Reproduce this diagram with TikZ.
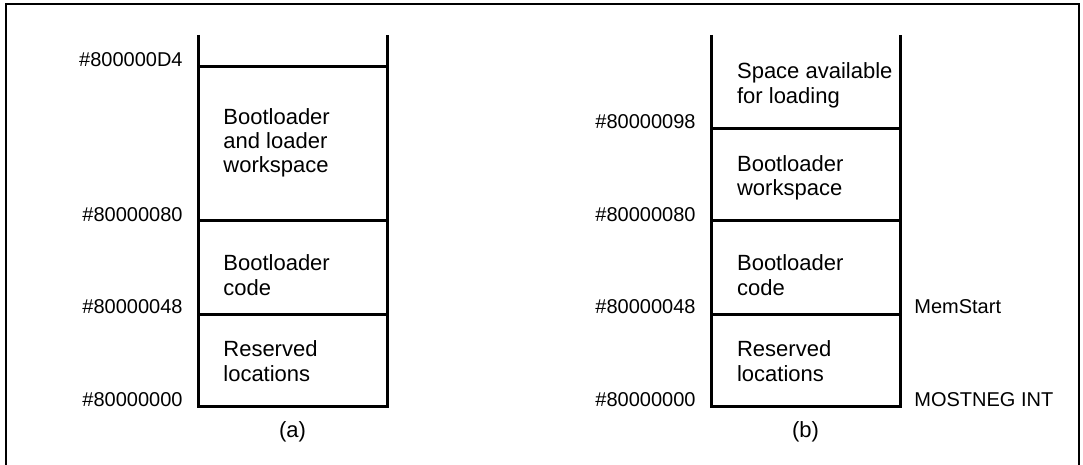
\documentclass[tikz,border=0pt]{standalone}
\usepackage{fontspec}
\setmainfont{Liberation Sans}
\usetikzlibrary{calc}

\tikzset{
    mem/.style={line width=1.5pt},
    addr/.style={font=\fontsize{10}{12}\selectfont, anchor=base east, inner sep=0pt},
    side/.style={font=\fontsize{10}{12}\selectfont, anchor=base west, inner sep=0pt},
    blk/.style={font=\fontsize{11}{12.15}\selectfont, anchor=base west, align=left, inner sep=0pt},
    capt/.style={font=\fontsize{11}{13}\selectfont, inner sep=0pt},
}

\begin{document}
\begin{tikzpicture}[x=0.5pt, y=-0.5pt]

    \useasboundingbox (0,0) rectangle (1083,465);
    % 外框
    \draw[line width=0.7pt] (6,470) -- (6,4) -- (1079,4) -- (1079,470);

    % 定义关键坐标 (a)
    \coordinate (a_top) at (198,35);                % 左边线上端
    \coordinate (a_D4)  at (198,67);                % #800000D4
    \coordinate (a_80)  at (198,221);               % #80000080
    \coordinate (a_48)  at (198,314);               % #80000048
    \coordinate (a_00)  at (198,406);               % #80000000
    \coordinate (a_R)   at (387,406);               % 右下角
    % 定义关键坐标 (b)
    \coordinate (b_top) at (711,35);
    \coordinate (b_98)  at (711,129);               % #80000098
    \coordinate (b_80)  at (711,221);
    \coordinate (b_48)  at (711,314);
    \coordinate (b_00)  at (711,406);
    \coordinate (b_R)   at (900,406);

    % 画存储区 (a)
    \draw[mem] (a_top) -- (a_00) -- (a_R) -- (a_R |- a_top);
    \draw[mem] (a_D4) -- (a_D4 -| a_R);
    \draw[mem] (a_80) -- (a_80 -| a_R);
    \draw[mem] (a_48) -- (a_48 -| a_R);
    % 画存储区 (b)
    \draw[mem] (b_top) -- (b_00) -- (b_R) -- (b_R |- b_top);
    \draw[mem] (b_98) -- (b_98 -| b_R);
    \draw[mem] (b_80) -- (b_80 -| b_R);
    \draw[mem] (b_48) -- (b_48 -| b_R);

    % 地址标记
    \node[addr] (a_lD4) at ($(a_D4) + (-15,0)$) {\#800000D4};
    \node[addr] (a_l80) at ($(a_80) + (-15,0)$) {\#80000080};
    \node[addr] (a_l48) at ($(a_48) + (-15,0)$) {\#80000048};
    \node[addr] (a_l00) at ($(a_00) + (-15,0)$) {\#80000000};
    \node[addr] (b_l98) at ($(b_98) + (-15,0)$) {\#80000098};
    \node[addr] (b_l80) at ($(b_80) + (-15,0)$) {\#80000080};
    \node[addr] (b_l48) at ($(b_48) + (-15,0)$) {\#80000048};
    \node[addr] (b_l00) at ($(b_00) + (-15,0)$) {\#80000000};
    \node[side] (b_mem) at ($(b_R |- b_48) + (14,0)$) {MemStart};
    \node[side] (b_neg) at ($(b_R) + (14,0)$) {MOSTNEG INT};

    % 各区内容 (基线为最后一行)
    \node[blk] (a_work) at (223,172.6) {Bootloader\\and loader\\workspace};
    \node[blk] (a_code) at (223,295) {Bootloader\\code};
    \node[blk] (a_res)  at (223,381) {Reserved\\locations};
    \node[blk] (b_free) at (736.7,103.3) {Space available\\for loading};
    \node[blk] (b_work) at (736.7,196) {Bootloader\\workspace};
    \node[blk] (b_code) at (736.7,295) {Bootloader\\code};
    \node[blk] (b_res)  at (736.7,381) {Reserved\\locations};

    % 图注
    \node[capt] (a_cap) at ($(a_00)!0.5!(a_R) + (0,26)$) {(a)};
    \node[capt] (b_cap) at ($(b_00)!0.5!(b_R) + (0,26)$) {(b)};

\end{tikzpicture}
\end{document}
